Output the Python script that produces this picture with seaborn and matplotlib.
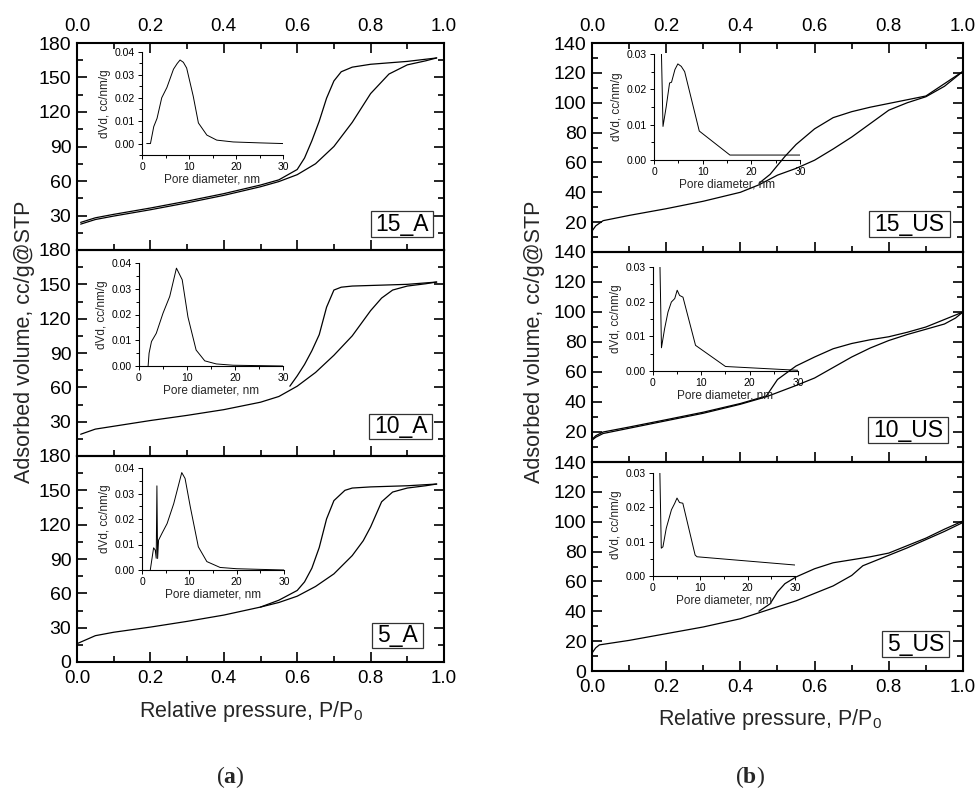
import numpy as np
import matplotlib
matplotlib.use("Agg")
import matplotlib.pyplot as plt
from matplotlib.ticker import MultipleLocator, FormatStrFormatter, FuncFormatter
from matplotlib.patches import Rectangle
import seaborn as sns

sns.set_theme(style="ticks")
plt.rcParams["font.family"] = ["Liberation Sans", "DejaVu Sans"]
plt.rcParams["mathtext.fontset"] = "custom"
plt.rcParams["mathtext.rm"] = "Liberation Sans"
plt.rcParams["mathtext.bf"] = "Liberation Serif:bold"

# ---------------- N2 isotherms, series A (calcined) ----------------
a15_ads_p = [0.01, 0.05, 0.1, 0.2, 0.3, 0.4, 0.5, 0.55, 0.6, 0.65, 0.7, 0.75, 0.8, 0.85, 0.9, 0.95, 0.98]
a15_ads_v = [22.5, 26.5, 29.5, 35, 41, 47.5, 55, 59.5, 65.5, 75, 90, 111, 136, 153, 161, 164.5, 167]
a15_des_p = [0.98, 0.9, 0.8, 0.75, 0.72, 0.7, 0.68, 0.66, 0.64, 0.62, 0.6, 0.55, 0.5, 0.4, 0.3, 0.2, 0.1, 0.05, 0.01]
a15_des_v = [167, 164, 161.5, 159, 155, 147, 132, 112, 95, 80, 70, 61, 56.5, 49, 42.5, 36.5, 31, 28, 24]

a10_ads_p = [0.01, 0.05, 0.1, 0.2, 0.3, 0.4, 0.5, 0.55, 0.6, 0.65, 0.7, 0.75, 0.8, 0.83, 0.86, 0.9, 0.95, 0.98]
a10_ads_v = [19, 23.5, 26, 31, 35.5, 40.5, 47, 52, 61, 73, 88, 105, 127, 138, 145, 148.5, 150.5, 152]
a10_des_p = [0.98, 0.9, 0.8, 0.75, 0.72, 0.7, 0.68, 0.66, 0.64, 0.62, 0.6, 0.58]
a10_des_v = [152, 150, 149, 148.5, 147.5, 145, 130, 106, 92, 80, 70, 61]

a5_ads_p = [0.0, 0.05, 0.1, 0.2, 0.3, 0.4, 0.5, 0.55, 0.6, 0.65, 0.7, 0.75, 0.78, 0.8, 0.83, 0.86, 0.9, 0.95, 0.98]
a5_ads_v = [16, 23, 26, 30.5, 35.5, 41, 48, 52, 57.5, 66, 77, 93, 106, 118, 140, 148.5, 152, 154, 155.5]
a5_des_p = [0.98, 0.9, 0.8, 0.75, 0.73, 0.7, 0.68, 0.66, 0.64, 0.62, 0.6, 0.55, 0.5]
a5_des_v = [155.5, 154, 153, 152, 150, 141, 125, 100, 82, 70, 62.5, 54, 48]

# ---------------- N2 isotherms, series US (ultrasound) ----------------
u15_ads_p = [0.0, 0.01, 0.03, 0.1, 0.2, 0.3, 0.4, 0.45, 0.5, 0.55, 0.6, 0.65, 0.7, 0.75, 0.8, 0.85, 0.9, 0.95, 1.0]
u15_ads_v = [14, 17.5, 21, 24.5, 29, 34, 40, 45, 51.5, 56, 61.5, 69, 77, 86, 95, 100, 104, 111, 121]
u15_des_p = [1.0, 0.9, 0.85, 0.8, 0.75, 0.7, 0.65, 0.6, 0.55, 0.52, 0.48, 0.45]
u15_des_v = [121, 104.5, 102, 99.5, 97, 94, 90, 82.5, 72, 64, 52, 46]

u10_ads_p = [0.0, 0.01, 0.03, 0.1, 0.2, 0.3, 0.4, 0.47, 0.55, 0.6, 0.65, 0.7, 0.75, 0.8, 0.85, 0.9, 0.95, 0.98, 1.0]
u10_ads_v = [14.5, 16.5, 19, 22.5, 27.5, 32.5, 38.5, 43.5, 51, 56, 63, 70, 76, 81, 85, 88.5, 92, 96, 100]
u10_des_p = [1.0, 0.95, 0.9, 0.85, 0.8, 0.75, 0.7, 0.65, 0.6, 0.55, 0.5, 0.47, 0.4, 0.3, 0.2, 0.1, 0.03, 0.01, 0.0]
u10_des_v = [100, 95, 90, 86.5, 83.5, 81.5, 79, 75.5, 70, 64, 55, 44, 39, 33.2, 28.2, 23.3, 20, 17.5, 15]

u5_ads_p = [0.0, 0.01, 0.02, 0.1, 0.2, 0.3, 0.4, 0.45, 0.5, 0.55, 0.6, 0.65, 0.7, 0.73, 0.8, 0.85, 0.9, 0.95, 1.0]
u5_ads_v = [12, 15.5, 17.5, 20.5, 25, 29.5, 35, 39, 43, 47, 52, 57, 64, 70.5, 77.5, 82.5, 88, 93.5, 99.5]
u5_des_p = [1.0, 0.95, 0.9, 0.85, 0.8, 0.75, 0.7, 0.65, 0.6, 0.55, 0.52, 0.5, 0.48, 0.45]
u5_des_v = [100.5, 95, 89, 84, 79, 76.5, 74.5, 72.5, 68.5, 63, 58.5, 53, 45, 40]

# ---------------- pore size distributions (dV/dD) ----------------
a15_psd_d = [1.0, 1.8, 2.5, 3.2, 4.2, 5.3, 6.7, 7.5, 8.1, 8.8, 9.5, 10.9, 12.0, 13.8, 15.9, 19.4, 25, 30]
a15_psd_v = [0, 0, 0.0074, 0.011, 0.020, 0.0245, 0.0325, 0.035, 0.0365, 0.0355, 0.033, 0.0207, 0.009, 0.0037, 0.0015, 0.0007, 0.0003, 0.0]

a10_psd_d = [1.9, 2.1, 2.6, 3.6, 5.0, 6.4, 7.8, 9.0, 10.2, 11.9, 13.7, 16.1, 19.6, 30]
a10_psd_v = [0, 0.005, 0.0095, 0.0127, 0.0205, 0.027, 0.038, 0.0335, 0.019, 0.0062, 0.002, 0.0008, 0.0003, 0.0]

a5_psd_d = [1.75, 2.45, 2.8, 3.0, 3.15, 3.3, 3.5, 4.2, 5.3, 6.7, 8.4, 9.1, 10.2, 11.9, 13.7, 16.5, 20, 30]
a5_psd_v = [0, 0.0087, 0.0078, 0.0046, 0.033, 0.0045, 0.0117, 0.0143, 0.0182, 0.026, 0.0382, 0.0359, 0.0248, 0.0091, 0.0033, 0.001, 0.0005, 0.0]

u15_psd_d = [1.3, 1.85, 2.5, 3.2, 3.6, 4.3, 4.9, 5.6, 6.3, 9.3, 15.6, 30]
u15_psd_v = [0.045, 0.0095, 0.015, 0.0218, 0.022, 0.0256, 0.0272, 0.0265, 0.025, 0.0082, 0.0014, 0.0014]

u10_psd_d = [1.25, 1.75, 2.4, 3.1, 3.8, 4.5, 5.0, 5.5, 6.2, 8.8, 15.0, 30]
u10_psd_v = [0.045, 0.0067, 0.0122, 0.017, 0.0199, 0.0209, 0.0233, 0.0218, 0.0213, 0.0074, 0.0013, 0.0002]

u5_psd_d = [1.25, 1.75, 2.1, 2.8, 3.9, 4.6, 5.07, 5.6, 6.3, 8.9, 9.3, 30]
u5_psd_v = [0.045, 0.0081, 0.0085, 0.0139, 0.0193, 0.0212, 0.0227, 0.0214, 0.0212, 0.0061, 0.0056, 0.0032]

sample_names = ["15_A", "10_A", "5_A", "15_US", "10_US", "5_US"]

W, H = 978, 791
fig = plt.figure(figsize=(W / 100, H / 100), dpi=100)
fig.patch.set_facecolor("white")


def rect_px(x0, y0, x1, y1):
    return [x0 / W, 1 - y1 / H, (x1 - x0) / W, (y1 - y0) / H]


def isotherm(rect, ads_p, ads_v, des_p, des_v, ymax, ystep, top, bottom):
    ax = fig.add_axes(rect_px(*rect))
    ax.patch.set_alpha(0)
    sns.lineplot(x=ads_p, y=ads_v, sort=False, estimator=None, color="black", lw=0.9, ax=ax)
    sns.lineplot(x=des_p, y=des_v, sort=False, estimator=None, color="black", lw=0.9, ax=ax)
    ax.set_xlim(0, 1)
    ax.set_ylim(0, ymax)
    ax.xaxis.set_major_locator(MultipleLocator(0.2))
    ax.xaxis.set_minor_locator(MultipleLocator(0.1))
    ax.yaxis.set_major_locator(MultipleLocator(ystep))
    ax.yaxis.set_minor_locator(MultipleLocator(ystep / 2))
    ax.xaxis.set_major_formatter(FormatStrFormatter("%.1f"))
    ax.yaxis.set_major_formatter(
        FuncFormatter(lambda v, p: "" if (abs(v) < 1e-9 and not bottom) else f"{v:g}"))
    ax.tick_params(which="both", direction="in", top=top, right=True, bottom=True, left=True,
                   labeltop=top, labelbottom=bottom, colors="black", width=1.2)
    ax.tick_params(axis="x", pad=6, labelsize=13.5)
    ax.tick_params(axis="y", pad=4, labelsize=14)
    ax.tick_params(which="major", length=7)
    ax.tick_params(which="minor", length=4)
    for s in ax.spines.values():
        s.set_linewidth(1.5)
        s.set_color("black")
    ax.set_xlabel("")
    ax.set_ylabel("")
    return ax


def psd(rect, d, v, ymin, ymax):
    ax = fig.add_axes(rect_px(*rect))
    ax.patch.set_alpha(0)
    sns.lineplot(x=d, y=v, sort=False, estimator=None, color="black", lw=0.7, ax=ax)
    ax.set_xlim(0, 30)
    ax.set_ylim(ymin, ymax)
    ax.spines["top"].set_visible(False)
    ax.spines["right"].set_visible(False)
    for s in ("left", "bottom"):
        ax.spines[s].set_linewidth(0.8)
        ax.spines[s].set_color("black")
    ax.xaxis.set_major_locator(MultipleLocator(10))
    ax.xaxis.set_minor_locator(MultipleLocator(5))
    ax.yaxis.set_major_locator(MultipleLocator(0.01))
    ax.yaxis.set_minor_locator(MultipleLocator(0.005))
    ax.yaxis.set_major_formatter(FormatStrFormatter("%.2f"))
    ax.tick_params(which="both", direction="out", labelsize=7.5, width=0.7, colors="black", pad=2)
    ax.tick_params(which="major", length=3)
    ax.tick_params(which="minor", length=2)
    ax.set_xlabel("Pore diameter, nm", fontsize=8.5, labelpad=1)
    ax.set_ylabel("dVd, cc/nm/g", fontsize=8.5, labelpad=3)
    return ax


def name_box(box, text):
    x0, y0, x1, y1 = box
    fig.add_artist(Rectangle((x0 / W, 1 - y1 / H), (x1 - x0) / W, (y1 - y0) / H,
                             transform=fig.transFigure, fill=False, ec="#333333", lw=0.9))
    fig.text((x0 + x1) / 2 / W, 1 - (y0 + y1) / 2 / H, text, ha="center", va="center",
             fontsize=16.5, color="black")


# ---- (a) series A ----
left_panels = [(77, 43, 444, 250), (77, 250, 444, 456), (77, 456, 444, 662)]
isotherm(left_panels[0], a15_ads_p, a15_ads_v, a15_des_p, a15_des_v, 180, 30, True, False)
isotherm(left_panels[1], a10_ads_p, a10_ads_v, a10_des_p, a10_des_v, 180, 30, False, False)
isotherm(left_panels[2], a5_ads_p, a5_ads_v, a5_des_p, a5_des_v, 180, 30, False, True)

psd((142, 52, 283, 155), a15_psd_d, a15_psd_v, -0.005, 0.04)
psd((139, 263, 283, 366), a10_psd_d, a10_psd_v, 0.0, 0.04)
psd((142, 468, 284, 570), a5_psd_d, a5_psd_v, 0.0, 0.04)

# ---- (b) series US ----
right_panels = [(592, 43, 963, 252), (592, 252, 963, 462), (592, 462, 963, 671)]
isotherm(right_panels[0], u15_ads_p, u15_ads_v, u15_des_p, u15_des_v, 140, 20, True, False)
isotherm(right_panels[1], u10_ads_p, u10_ads_v, u10_des_p, u10_des_v, 140, 20, False, False)
isotherm(right_panels[2], u5_ads_p, u5_ads_v, u5_des_p, u5_des_v, 140, 20, False, True)

psd((654, 54, 800, 160), u15_psd_d, u15_psd_v, 0.0, 0.03)
psd((653, 267, 798, 371), u10_psd_d, u10_psd_v, 0.0, 0.03)
psd((653, 473, 795, 576), u5_psd_d, u5_psd_v, 0.0, 0.03)

boxes = [(371, 211, 433, 237), (369, 414, 432, 439), (372, 623, 423, 648),
         (869, 211, 950, 237), (868, 417, 948, 443), (882, 631, 949, 657)]
for b, n in zip(boxes, sample_names):
    name_box(b, n)

# axis titles
ylab = "Adsorbed volume, cc/g@STP"
xlab = "Relative pressure, P/P$_0$"
fig.text(25 / W, 1 - 342 / H, ylab, rotation=90, ha="center", va="center", fontsize=15.5)
fig.text(535 / W, 1 - 342 / H, ylab, rotation=90, ha="center", va="center", fontsize=15.5)
fig.text(251 / W, 1 - 712 / H, xlab, ha="center", va="center", fontsize=15.5)
fig.text(770 / W, 1 - 719 / H, xlab, ha="center", va="center", fontsize=15.5)

fig.text(230 / W, 1 - 777 / H, r"($\mathbf{a}$)", ha="center", va="center", fontsize=17,
         family="Liberation Serif")
fig.text(750 / W, 1 - 777 / H, r"($\mathbf{b}$)", ha="center", va="center", fontsize=17,
         family="Liberation Serif")

fig.savefig("out.png", dpi=100, facecolor="white")
